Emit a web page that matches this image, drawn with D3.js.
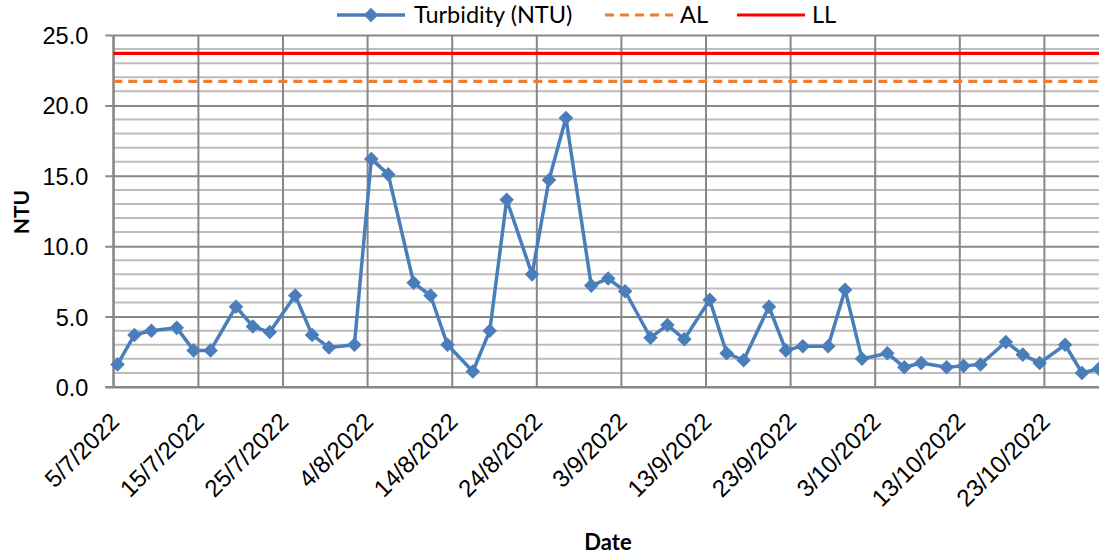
<!DOCTYPE html>
<html>
<head>
<meta charset="utf-8">
<script src="https://cdn.jsdelivr.net/npm/d3@7"></script>
<style>
  body { margin: 0; background: #fff; }
  svg { display: block; font-family: Lato, "Open Sans", sans-serif; }
</style>
</head>
<body>
<svg id="chart" width="1099" height="559"></svg>
<script>
// sample dates (d/m/yyyy) and turbidity readings
var dates = ["5/7/2022","7/7/2022","9/7/2022","12/7/2022","14/7/2022","16/7/2022","19/7/2022","21/7/2022",
    "23/7/2022","26/7/2022","28/7/2022","30/7/2022","2/8/2022","4/8/2022","6/8/2022","9/8/2022",
    "11/8/2022","13/8/2022","16/8/2022","18/8/2022","20/8/2022","23/8/2022","25/8/2022","27/8/2022",
    "30/8/2022","1/9/2022","3/9/2022","6/9/2022","8/9/2022","10/9/2022","13/9/2022","15/9/2022",
    "17/9/2022","20/9/2022","22/9/2022","24/9/2022","27/9/2022","29/9/2022","1/10/2022","4/10/2022",
    "6/10/2022","8/10/2022","11/10/2022","13/10/2022","15/10/2022","18/10/2022","20/10/2022",
    "22/10/2022","25/10/2022","27/10/2022","29/10/2022"];
var turbidity = [1.6,3.7,4.0,4.2,2.6,2.6,5.7,4.3,3.9,6.5,3.7,2.8,3.0,16.2,15.1,7.4,6.5,3.0,1.1,4.0,
    13.3,8.0,14.7,19.1,7.2,7.7,6.8,3.5,4.4,3.4,6.2,2.4,1.9,5.7,2.6,2.9,2.9,6.9,2.0,2.4,1.4,1.7,1.4,
    1.5,1.6,3.2,2.3,1.7,3.0,1.0,1.3];
var alValue = 21.7;
var llValue = 23.7;

var xTickLabels = ["5/7/2022","15/7/2022","25/7/2022","4/8/2022","14/8/2022","24/8/2022","3/9/2022",
    "13/9/2022","23/9/2022","3/10/2022","13/10/2022","23/10/2022"];
var yTickValues = [0, 5, 10, 15, 20, 25];
var legendNames = ["Turbidity (NTU)", "AL", "LL"];

var parseDate = d3.utcParse("%d/%m/%Y");

var svg = d3.select("#chart"),
    width = 1099,
    height = 559;

var plotLeft = 113.3, plotTop = 35, plotBottom = 387;
var pxPerDay = 8.46;

var start = parseDate("5/7/2022");
var end = parseDate("1/11/2022");

var x = d3.scaleUtc()
    .domain([start, end])
    .range([plotLeft, plotLeft + pxPerDay * d3.utcDay.count(start, end)]);

var y = d3.scaleLinear()
    .domain([0, 25])
    .range([plotBottom, plotTop]);

var plotRight = x.range()[1];

// points sit in the middle of their day
function px(s) { return x(d3.utcHour.offset(parseDate(s), 12)); }

var data = dates.map(function (d, i) { return { date: d, value: turbidity[i] }; });

svg.append("rect").attr("width", width).attr("height", height).attr("fill", "#fff");

// minor horizontal grid
svg.append("g")
    .selectAll("line")
    .data(d3.range(1, 25).filter(function (v) { return v % 5 !== 0; }))
    .enter()
    .append("line")
    .attr("x1", plotLeft).attr("x2", plotRight)
    .attr("y1", function (d) { return y(d); })
    .attr("y2", function (d) { return y(d); })
    .attr("stroke", "#bdbdbd")
    .attr("stroke-width", 2);

// major horizontal grid + y axis
var yAxis = d3.axisLeft(y)
    .tickValues(yTickValues)
    .tickSize(0)
    .tickFormat(d3.format(".1f"));

var yg = svg.append("g")
    .attr("transform", "translate(" + plotLeft + ",0)")
    .call(yAxis);
yg.select(".domain").remove();
yg.selectAll(".tick line")
    .attr("x1", -8)
    .attr("x2", plotRight - plotLeft)
    .attr("stroke", "#878787")
    .attr("stroke-width", 2);
yg.selectAll(".tick text")
    .attr("x", -25)
    .attr("dy", "0.36em")
    .attr("font-size", 23.5)
    .attr("fill", "#000");

// vertical grid + x axis
var xTicks = xTickLabels.map(parseDate);
var xAxis = d3.axisBottom(x)
    .tickValues(xTicks)
    .tickSize(-(plotBottom - plotTop))
    .tickFormat(d3.utcFormat("%-d/%-m/%Y"));

var xg = svg.append("g")
    .attr("transform", "translate(0," + plotBottom + ")")
    .call(xAxis);
xg.select(".domain").remove();
xg.selectAll(".tick line")
    .attr("stroke", "#878787")
    .attr("stroke-width", 2);
xg.selectAll(".tick text")
    .attr("font-size", 24)
    .attr("fill", "#000")
    .attr("text-anchor", "end")
    .attr("y", 0)
    .attr("dy", 0)
    .attr("transform", "translate(7,36) rotate(-45)");

// left edge and baseline
svg.append("line")
    .attr("x1", plotLeft).attr("x2", plotLeft)
    .attr("y1", plotTop).attr("y2", plotBottom)
    .attr("stroke", "#878787").attr("stroke-width", 2);
svg.append("line")
    .attr("x1", plotLeft - 8).attr("x2", plotRight)
    .attr("y1", plotBottom).attr("y2", plotBottom)
    .attr("stroke", "#878787").attr("stroke-width", 2);

// limit lines
svg.append("line")
    .attr("x1", plotLeft).attr("x2", plotRight)
    .attr("y1", y(alValue)).attr("y2", y(alValue))
    .attr("stroke", "#ED7D31")
    .attr("stroke-width", 3.2)
    .attr("stroke-dasharray", "9,6");
svg.append("line")
    .attr("x1", plotLeft).attr("x2", plotRight)
    .attr("y1", y(llValue)).attr("y2", y(llValue))
    .attr("stroke", "#FF0000")
    .attr("stroke-width", 3.2);

// turbidity series
var line = d3.line()
    .x(function (d) { return px(d.date); })
    .y(function (d) { return y(d.value); });

svg.append("path")
    .datum(data)
    .attr("d", line)
    .attr("fill", "none")
    .attr("stroke", "#4A7EBB")
    .attr("stroke-width", 3.5)
    .attr("stroke-linejoin", "round");

var diamond = d3.symbol().type(d3.symbolDiamond2).size(135);

svg.append("g")
    .selectAll("path")
    .data(data)
    .enter()
    .append("path")
    .attr("d", diamond)
    .attr("transform", function (d) { return "translate(" + px(d.date) + "," + y(d.value) + ")"; })
    .attr("fill", "#4A7EBB");

// axis titles
svg.append("text")
    .attr("transform", "translate(29,212) rotate(-90)")
    .attr("text-anchor", "middle")
    .attr("font-size", 21)
    .attr("font-weight", "bold")
    .text("NTU");

svg.append("text")
    .attr("x", 608)
    .attr("y", 550)
    .attr("text-anchor", "middle")
    .attr("font-size", 22)
    .attr("font-weight", "bold")
    .text("Date");

// legend
var legend = svg.append("g").attr("font-size", 23.5);

legend.append("line")
    .attr("x1", 337).attr("x2", 405).attr("y1", 15).attr("y2", 15)
    .attr("stroke", "#4A7EBB").attr("stroke-width", 3.5);
legend.append("path")
    .attr("d", diamond)
    .attr("transform", "translate(371,15)")
    .attr("fill", "#4A7EBB");
legend.append("text").attr("x", 414).attr("y", 23).text(legendNames[0]);

legend.append("line")
    .attr("x1", 605).attr("x2", 673).attr("y1", 15).attr("y2", 15)
    .attr("stroke", "#ED7D31").attr("stroke-width", 3.2)
    .attr("stroke-dasharray", "9,6");
legend.append("text").attr("x", 680).attr("y", 23).text(legendNames[1]);

legend.append("line")
    .attr("x1", 737).attr("x2", 805).attr("y1", 15).attr("y2", 15)
    .attr("stroke", "#FF0000").attr("stroke-width", 3.2);
legend.append("text").attr("x", 812).attr("y", 23).text(legendNames[2]);
</script>
</body>
</html>
